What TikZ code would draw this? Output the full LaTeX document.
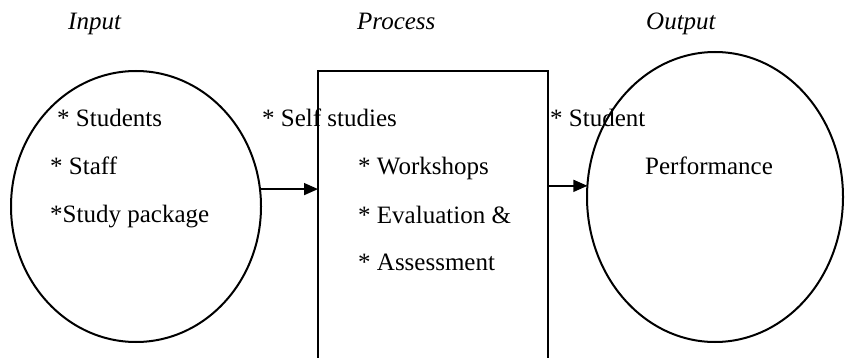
\documentclass[tikz,border=0pt]{standalone}
\usepackage{fontspec}
\setmainfont{Liberation Serif}
\usetikzlibrary{shapes.geometric,arrows.meta}
\tikzset{
  lbl/.style={anchor=base west, inner sep=0pt, font=\fontsize{25pt}{30pt}\selectfont},
  head/.style={lbl, font=\fontsize{25pt}{30pt}\selectfont\itshape},
  shp/.style={draw, line width=2pt, inner sep=0pt, outer sep=0pt},
  arr/.style={line width=1.6pt, -{Triangle[length=14pt,width=12pt]}}
}
\begin{document}
\begin{tikzpicture}[x=1pt,y=-1pt]
\useasboundingbox (0,0) rectangle (845,358);
% shapes
\node[shp, ellipse, minimum width=250pt, minimum height=271pt] (in) at (136,206.5) {};
\node[shp, rectangle, minimum width=230pt, minimum height=349pt] (proc) at (433,245.5) {};
\node[shp, ellipse, minimum width=256pt, minimum height=290pt] (outp) at (715,197) {};
% arrows
\draw[arr] (in.8.5) -- (in.8.5 -| proc.west);
\draw[arr] (outp.175.5 -| proc.east) -- (outp.175.5);
% headings
\node[head] (hin) at (68,30) {Input};
\node[head] (hproc) at (357,30) {Process};
\node[head] (hout) at (646,30) {Output};
% input texts
\node[lbl] (t1) at (57,127) {* Students};
\node[lbl] (t2) at (50,175) {* Staff};
\node[lbl] (t3) at (50,222) {*Study package};
% process texts
\node[lbl] (p1) at (262,127) {* Self studies};
\node[lbl] (p2) at (358,175) {* Workshops};
\node[lbl] (p3) at (358,223) {* Evaluation \&};
\node[lbl] (p4) at (358,270) {* Assessment};
% output texts
\node[lbl] (o1) at (550,127) {* Student};
\node[lbl] (o2) at (645,175) {Performance};
\end{tikzpicture}
\end{document}
